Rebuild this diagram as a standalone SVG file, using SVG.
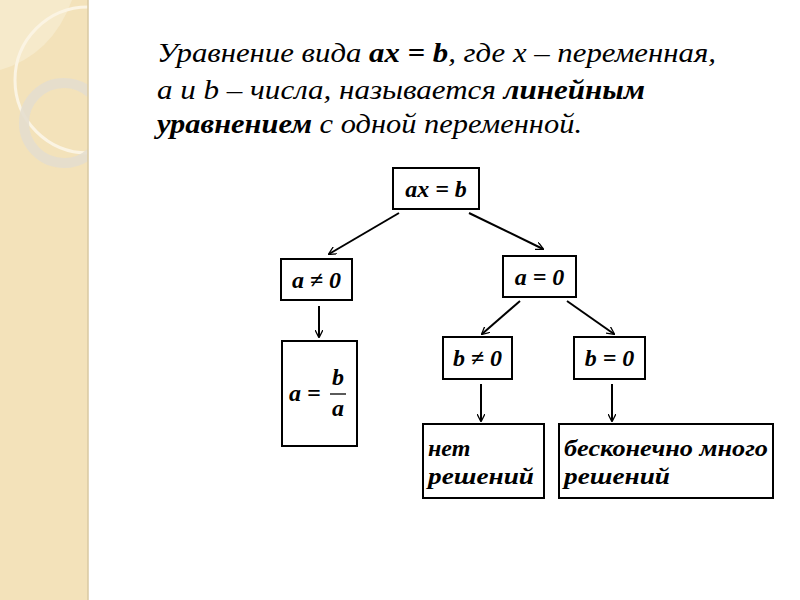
<svg xmlns="http://www.w3.org/2000/svg" width="800" height="600" viewBox="0 0 800 600">
<defs>
<marker id="ah" viewBox="0 0 10 10" refX="9" refY="5" markerWidth="8" markerHeight="8" markerUnits="userSpaceOnUse" orient="auto">
<path d="M0,0 L10,5 L0,10" fill="none" stroke="#000" stroke-width="1.6"/>
</marker>
<clipPath id="side"><rect x="0" y="0" width="88" height="600"/></clipPath>
</defs>
<rect width="800" height="600" fill="#fff"/>
<g id="sidebar">
<rect x="0" y="0" width="88" height="600" fill="#F3E2BA"/>
<g clip-path="url(#side)">
<path d="M0,0 L72,0 Q52,55 0,70 Z" fill="#F6EACB"/>
<circle cx="88" cy="80" r="73" fill="none" stroke="#FBF4E3" stroke-width="3"/>
<circle cx="64" cy="123" r="40" fill="none" stroke="#E4DECE" stroke-width="10" opacity="0.9"/>
</g>
<line x1="88" y1="0" x2="88" y2="600" stroke="#D8C8A2" stroke-width="1.5"/>
</g>
<g id="title" font-family="Liberation Serif" font-style="italic" font-size="27" fill="#000">
<text x="157" y="62" textLength="559" lengthAdjust="spacingAndGlyphs">Уравнение вида <tspan font-weight="bold">ax = b</tspan>, где x – переменная,</text>
<text x="157" y="99" textLength="488" lengthAdjust="spacingAndGlyphs">a и b – числа, называется <tspan font-weight="bold">линейным</tspan></text>
<text x="157" y="133" textLength="425" lengthAdjust="spacingAndGlyphs"><tspan font-weight="bold">уравнением</tspan> с одной переменной.</text>
</g>
<g id="connectors" stroke="#000" stroke-width="2" marker-end="url(#ah)">
<line x1="399" y1="213" x2="329" y2="254"/>
<line x1="469" y1="213" x2="543" y2="249"/>
<line x1="319" y1="306" x2="319" y2="337"/>
<line x1="520" y1="301" x2="482" y2="334"/>
<line x1="567" y1="301" x2="614" y2="334"/>
<line x1="481" y1="384" x2="481" y2="421"/>
<line x1="612" y1="384" x2="612" y2="421"/>
</g>
<g id="nodes" font-family="Liberation Serif" font-style="italic" font-weight="bold" font-size="24" fill="#000">
<g id="n-axb"><rect x="393" y="168" width="86" height="41" fill="#fff" stroke="#000" stroke-width="2"/><text x="436" y="197" text-anchor="middle">ax = b</text></g>
<g id="n-aneq0"><rect x="281" y="259" width="71" height="41" fill="#fff" stroke="#000" stroke-width="2"/><text x="316.5" y="288" text-anchor="middle">a ≠ 0</text></g>
<g id="n-aeq0"><rect x="503" y="256" width="73" height="41" fill="#fff" stroke="#000" stroke-width="2"/><text x="539.5" y="285" text-anchor="middle">a = 0</text></g>
<g id="n-frac"><rect x="282" y="341" width="75" height="105" fill="#fff" stroke="#000" stroke-width="2"/>
<text x="289" y="401">a =</text>
<line x1="330" y1="394" x2="346" y2="394" stroke="#000" stroke-width="1.3"/>
<text x="338" y="385" text-anchor="middle">b</text>
<text x="338" y="416" text-anchor="middle">a</text>
</g>
<g id="n-bneq0"><rect x="443" y="337" width="69" height="42" fill="#fff" stroke="#000" stroke-width="2"/><text x="477.5" y="366" text-anchor="middle">b ≠ 0</text></g>
<g id="n-beq0"><rect x="574" y="337" width="71" height="42" fill="#fff" stroke="#000" stroke-width="2"/><text x="609.5" y="366" text-anchor="middle">b = 0</text></g>
<g id="n-none"><rect x="423" y="424" width="121" height="74" fill="#fff" stroke="#000" stroke-width="2"/><text x="428" y="456">нет</text><text x="428" y="484" textLength="106" lengthAdjust="spacingAndGlyphs">решений</text></g>
<g id="n-inf"><rect x="559" y="424" width="214" height="74" fill="#fff" stroke="#000" stroke-width="2"/><text x="564" y="456" textLength="204" lengthAdjust="spacingAndGlyphs">бесконечно много</text><text x="564" y="484" textLength="106" lengthAdjust="spacingAndGlyphs">решений</text></g>
</g>
</svg>
